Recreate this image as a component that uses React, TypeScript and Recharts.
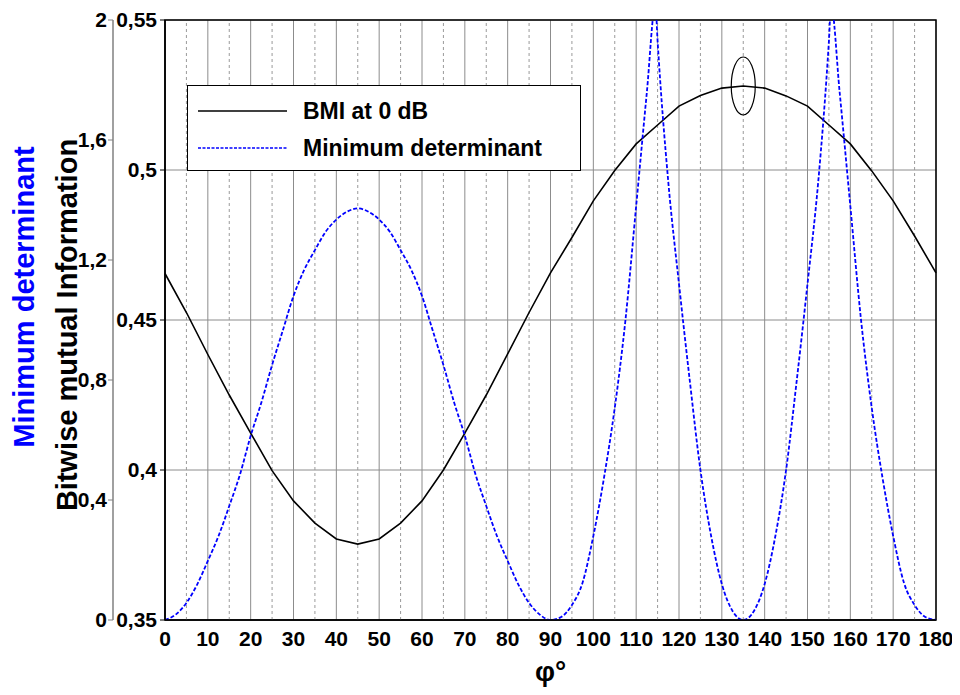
import React from 'react';
import {
  LineChart, Line, XAxis, YAxis, CartesianGrid, Legend,
  ReferenceLine, ReferenceArea, ReferenceDot, Label
} from 'recharts';

const FONT = 'Arial, "Liberation Sans", Helvetica, sans-serif';

// BMI at 0 dB, sampled every 5 degrees
const PHI_BMI = [0, 5, 10, 15, 20, 25, 30, 35, 40, 45, 50, 55, 60, 65, 70, 75, 80, 85, 90,
  95, 100, 105, 110, 115, 120, 125, 130, 135, 140, 145, 150, 155, 160, 165, 170, 175, 180];
const BMI = [0.4655, 0.4525, 0.4385, 0.425, 0.4123, 0.3998, 0.3897, 0.3823, 0.377, 0.3753,
  0.377, 0.3823, 0.3897, 0.4, 0.4123, 0.425, 0.4387, 0.4525, 0.4657,
  0.4775, 0.4897, 0.4998, 0.5087, 0.515, 0.5213, 0.5248, 0.5273, 0.528,
  0.5273, 0.5247, 0.5213, 0.515, 0.5087, 0.4997, 0.4897, 0.478, 0.4657];

// minimum determinant
const PHI_DET = [0, 2.5, 5, 7.5, 10, 12.5, 15, 17.5, 20, 22.5, 25, 27.5, 30, 32.5, 35, 37.5, 40, 42.5, 45,
  47.5, 50, 52.5, 55, 57.5, 60, 62.5, 65, 67.5, 70, 72.5, 75, 77.5, 80, 82.5, 85, 87.5, 90,
  92.5, 95, 97.5, 100, 102.5, 105, 107.5, 110, 112.5, 114.5, 115, 117.5, 120, 122.5, 125, 127.5, 130, 132.5, 135,
  137.5, 140, 142.5, 145, 147.5, 150, 152.5, 155, 155.5, 157.5, 160, 162.5, 165, 167.5, 170, 172.5, 175, 177.5, 180];
const DET = [0, 0.018, 0.057, 0.118, 0.197, 0.28, 0.38, 0.485, 0.614, 0.725, 0.85, 0.965, 1.08, 1.167, 1.233, 1.294, 1.335, 1.361, 1.372,
  1.361, 1.335, 1.294, 1.233, 1.167, 1.08, 0.965, 0.85, 0.725, 0.614, 0.485, 0.38, 0.28, 0.197, 0.118, 0.057, 0.018, 0,
  0.01, 0.05, 0.125, 0.28, 0.475, 0.707, 1.0, 1.38, 1.76, 2.05, 1.93, 1.46, 1.12, 0.8, 0.5, 0.28, 0.12, 0.03, 0,
  0.03, 0.12, 0.28, 0.5, 0.8, 1.12, 1.46, 1.93, 2.05, 1.76, 1.38, 1.0, 0.707, 0.475, 0.28, 0.125, 0.05, 0.01, 0];

const X_TICKS = [0, 10, 20, 30, 40, 50, 60, 70, 80, 90, 100, 110, 120, 130, 140, 150, 160, 170, 180];
const X_MINOR = [5, 15, 25, 35, 45, 55, 65, 75, 85, 95, 105, 115, 125, 135, 145, 155, 165, 175];
const BMI_TICKS = [0.35, 0.4, 0.45, 0.5, 0.55];
const DET_TICKS = [0, 0.4, 0.8, 1.2, 1.6, 2];

const bmiData = PHI_BMI.map((phi, i) => ({ phi, bmi: BMI[i] }));
const detData = PHI_DET.map((phi, i) => ({ phi, det: DET[i] }));
const BMI_MAX_PHI = PHI_BMI[BMI.indexOf(Math.max(...BMI))];

const comma = (v: number) => String(v).replace('.', ',');
const tickStyle = { fill: '#000', fontSize: 21, fontWeight: 'bold', fontFamily: FONT };

const renderYTitles = (props: any) => {
  const vb = props.viewBox;
  const cy = vb.y + vb.height / 2;
  const x1 = vb.x - 19;
  const x2 = vb.x + 24;
  const y1 = cy - 23;
  const y2 = cy + 5;
  return (
    <g>
      <text x={x1} y={y1} transform={`rotate(-90, ${x1}, ${y1})`} textAnchor="middle"
        dominantBaseline="central" fill="#0000ff" fontSize={29} fontWeight="bold" fontFamily={FONT}>
        Minimum determinant
      </text>
      <text x={x2} y={y2} transform={`rotate(-90, ${x2}, ${y2})`} textAnchor="middle"
        dominantBaseline="central" fill="#000" fontSize={29} fontWeight="bold" fontFamily={FONT}>
        Bitwise mutual Information
      </text>
    </g>
  );
};

const renderXTitle = (props: any) => {
  const vb = props.viewBox;
  return (
    <text x={vb.x + vb.width / 2} y={vb.y + 61} textAnchor="middle" fill="#000"
      fontSize={28} fontWeight="bold" fontFamily={FONT}>
      φ°
    </text>
  );
};

const renderLegend = (props: any) => {
  const rows = props.payload || [];
  return (
    <div style={{
      position: 'relative', width: 392, height: 84, border: '1.5px solid #000',
      background: '#fff', fontFamily: FONT, fontWeight: 'bold', fontSize: 23
    }}>
      <svg width={110} height={84} style={{ position: 'absolute', left: 0, top: 0 }}>
        {rows.map((r: any, i: number) => (
          <line key={i} x1={10} x2={99} y1={25 + i * 37} y2={25 + i * 37}
            stroke={r.color} strokeWidth={1.5}
            strokeDasharray={r.payload && r.payload.strokeDasharray ? '3 1.5' : undefined} />
        ))}
      </svg>
      {rows.map((r: any, i: number) => (
        <div key={i} style={{
          position: 'absolute', left: 115, top: 25 + i * 37, transform: 'translateY(-50%)',
          lineHeight: 1, whiteSpace: 'nowrap', color: '#000'
        }}>
          {r.value}
        </div>
      ))}
    </div>
  );
};

const App: React.FC = () => {
  return (
    <div style={{ width: 950, height: 680, fontFamily: FONT }}>
      <LineChart width={950} height={680} margin={{ top: 12, right: 22, bottom: 28, left: 35 }}>
        <CartesianGrid yAxisId="bmi" stroke="#8c8c8c" strokeWidth={1} />
        {X_MINOR.map((v) => (
          <ReferenceLine key={v} x={v} yAxisId="bmi" stroke="#9a9a9a" strokeDasharray="3 3" />
        ))}
        <XAxis type="number" dataKey="phi" domain={[0, 180]} ticks={X_TICKS} interval={0}
          height={40} tickLine={false} tickSize={6} tickMargin={5} tick={tickStyle}
          axisLine={{ stroke: '#000', strokeWidth: 1.5 }}>
          <Label content={renderXTitle} />
        </XAxis>
        <YAxis yAxisId="bmi" type="number" domain={[0.35, 0.55]} ticks={BMI_TICKS} interval={0}
          width={52} tickSize={5} tickMargin={3} tickFormatter={comma} tick={tickStyle}
          axisLine={{ stroke: '#000', strokeWidth: 1.5 }} tickLine={{ stroke: '#000' }} />
        <YAxis yAxisId="det" type="number" domain={[0, 2]} ticks={DET_TICKS} interval={0}
          allowDataOverflow width={70} tickSize={5} tickMargin={1} tickFormatter={comma} tick={tickStyle}
          axisLine={{ stroke: '#808080', strokeWidth: 1.5 }} tickLine={{ stroke: '#808080' }}>
          <Label content={renderYTitles} />
        </YAxis>
        <ReferenceArea x1={0} x2={180} y1={0.35} y2={0.55} yAxisId="bmi"
          fill="none" stroke="#000" strokeWidth={1.5} />
        <Line yAxisId="bmi" data={bmiData} dataKey="bmi" name="BMI at 0 dB" type="linear"
          stroke="#000" strokeWidth={1.6} dot={false} isAnimationActive={false} />
        <Line yAxisId="det" data={detData} dataKey="det" name="Minimum determinant" type="monotone"
          stroke="#0000ff" strokeWidth={1.8} strokeDasharray="4 2" dot={false} isAnimationActive={false} />
        <ReferenceDot yAxisId="bmi" x={BMI_MAX_PHI} y={Math.max(...BMI)}
          shape={(p: any) => (
            <ellipse cx={p.cx} cy={p.cy} rx={12} ry={29} fill="none" stroke="#000" strokeWidth={1.2} />
          )} />
        <Legend layout="horizontal" verticalAlign="middle" align="center" content={renderLegend}
          wrapperStyle={{ left: 179, top: 77, width: 'auto', height: 'auto' }} />
      </LineChart>
    </div>
  );
};

export default App;
